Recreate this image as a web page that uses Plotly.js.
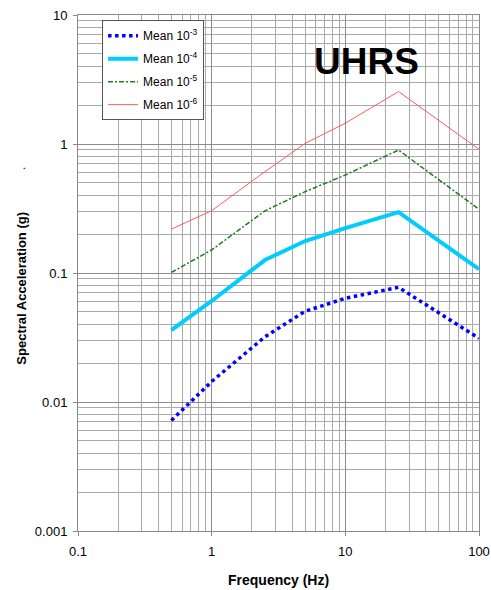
<!DOCTYPE html>
<html><head><meta charset="utf-8">
<script src="https://cdn.plot.ly/plotly-3.0.1.min.js"></script>
<style>body{margin:0;background:#fff}#c{width:491px;height:590px}</style>
</head><body><div id="c"></div>
<script>
const freq = [0.5, 1, 2.5, 5, 10, 25, 100];
const mean1e3 = [0.0072, 0.0144, 0.032, 0.0505, 0.0637, 0.0774, 0.0312];
const mean1e4 = [0.0361, 0.0607, 0.126, 0.177, 0.223, 0.296, 0.107];
const mean1e5 = [0.101, 0.151, 0.303, 0.427, 0.575, 0.898, 0.312];
const mean1e6 = [0.219, 0.304, 0.610, 1.01, 1.45, 2.55, 0.91];
const names = ['Mean 10<sup>-3</sup>', 'Mean 10<sup>-4</sup>', 'Mean 10<sup>-5</sup>', 'Mean 10<sup>-6</sup>'];
const xTicks = [0.1, 1, 10, 100];
const xTickText = ['0.1', '1', '10', '100'];
const yTicks = [0.001, 0.01, 0.1, 1, 10];
const yTickText = ['0.001', '0.01', '0.1', '1', '10'];

const traces = [
  {x: freq, y: mean1e3, name: names[0], legendgroup: 'a', mode: 'lines', line: {color: '#0000ff', width: 3.5, dash: 'dot'}},
  {x: freq, y: mean1e4, name: names[1], legendgroup: 'b', mode: 'lines', line: {color: '#00ccff', width: 4}},
  {x: freq, y: mean1e5, name: names[2], legendgroup: 'c', mode: 'lines', line: {color: '#1e7a1e', width: 1.5, dash: '5px,2px,2px,2px'}},
  {x: freq, y: mean1e6, name: names[3], legendgroup: 'd', mode: 'lines', line: {color: '#ff5a5a', width: 1}}
];
const fam = 'Liberation Sans, Arial, sans-serif';
const axisCommon = {
  type: 'log', showline: true, linecolor: '#888', linewidth: 1, mirror: true,
  ticks: 'outside', ticklen: 4, tickcolor: '#888',
  showgrid: true, gridcolor: '#8c8c8c', gridwidth: 1, zeroline: false,
  tickfont: {size: 13, family: fam, color: '#000'},
  minor: {dtick: 'D1', showgrid: true, gridcolor: '#aaa', gridwidth: 1, ticks: ''}
};
const layout = {
  width: 491, height: 590,
  margin: {l: 78, r: 12, t: 15, b: 59},
  paper_bgcolor: '#fff', plot_bgcolor: '#fff',
  font: {family: fam, color: '#000'},
  showlegend: true,
  legend: {x: 0.06, y: 0.99, xanchor: 'left', yanchor: 'top', bgcolor: '#fff',
           bordercolor: '#555', borderwidth: 1, tracegroupgap: 4, traceorder: 'grouped',
           font: {size: 12, family: fam, color: '#000'}},
  xaxis: Object.assign({}, axisCommon, {
    range: [-1, 2], tickvals: xTicks, ticktext: xTickText, ticklabelstandoff: 4
  }),
  yaxis: Object.assign({}, axisCommon, {
    range: [-3, 1], tickvals: yTicks, ticktext: yTickText, ticklabelstandoff: 3
  }),
  annotations: [
    {text: '<b>UHRS</b>', xref: 'paper', yref: 'paper', x: 0.72, y: 0.909, xanchor: 'center', yanchor: 'middle',
     showarrow: false, font: {size: 37, family: fam, color: '#000'}},
    {text: '<b>Frequency (Hz)</b>', xref: 'paper', yref: 'paper', x: 0.5, y: -0.095, xanchor: 'center', yanchor: 'middle',
     showarrow: false, font: {size: 14, family: fam, color: '#000'}},
    {text: '<b>Spectral Acceleration (g)</b>', xref: 'paper', yref: 'paper', x: -0.1404, y: 0.471, xanchor: 'center', yanchor: 'middle',
     textangle: -90, showarrow: false, font: {size: 13, family: fam, color: '#000'}},
    {text: '.', xref: 'paper', yref: 'paper', x: -0.142, y: 0.7016, xanchor: 'center', yanchor: 'middle',
     textangle: -90, showarrow: false, font: {size: 12, family: fam, color: '#000'}}
  ]
};
Plotly.newPlot('c', traces, layout, {displayModeBar: false, staticPlot: true});
</script></body></html>
